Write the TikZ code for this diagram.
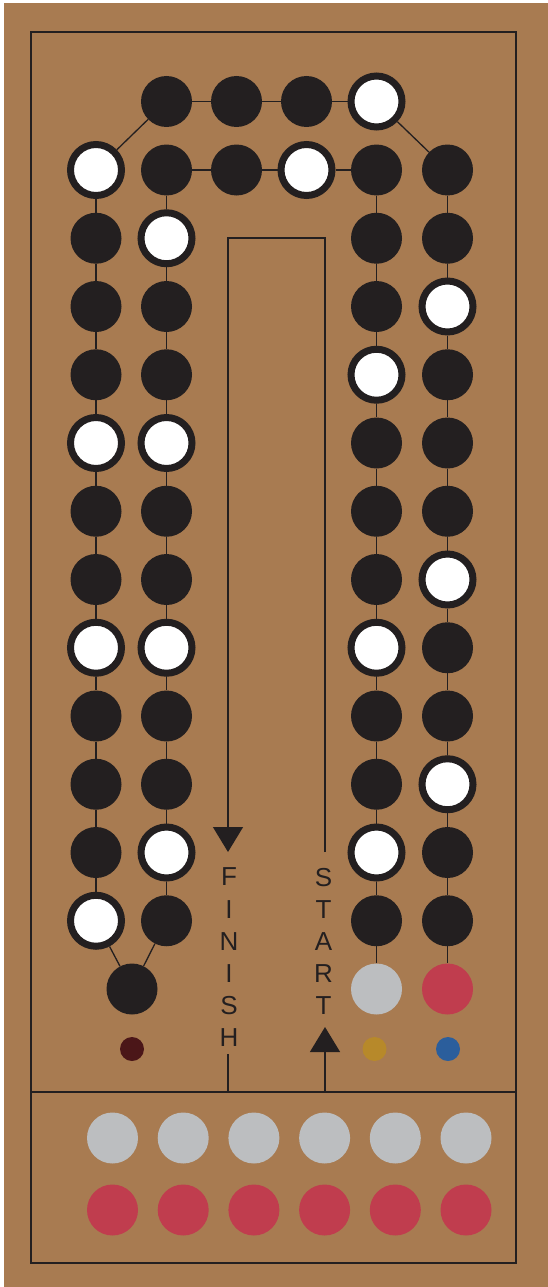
\documentclass[tikz,border=0pt]{standalone}
\usepackage{fontspec}
\setmainfont{Liberation Sans}
\usetikzlibrary{arrows.meta}
\definecolor{board}{HTML}{A87B51}
\definecolor{ink}{HTML}{231F20}
\definecolor{peggray}{HTML}{BCBEC0}
\definecolor{pegred}{HTML}{C03D4E}
\definecolor{dotred}{HTML}{4B1618}
\definecolor{dotgold}{HTML}{B7892A}
\definecolor{dotblue}{HTML}{2B5E9C}
\begin{document}
\begin{tikzpicture}[x=1pt,y=-1pt,
  blackhole/.style={circle,inner sep=0pt,minimum size=51pt,fill=ink},
  whitehole/.style={circle,inner sep=0pt,minimum size=51pt,fill=white,draw=ink,line width=7pt},
  peg/.style={circle,inner sep=0pt,minimum size=51pt,fill=#1},
  dotmark/.style={circle,inner sep=0pt,minimum size=24pt,fill=#1},
  link/.style={draw=ink,line width=1.3pt},
  frame/.style={draw=ink,line width=1.4pt},
  letters/.style={text=ink,font=\fontsize{26}{32.2}\selectfont,align=center,inner sep=0pt},
  tip/.style={-{Triangle[width=30pt,length=25pt]}}]
\useasboundingbox (0,0) rectangle (548,1287);
\fill[white] (0,0) rectangle (548,1287);
\fill[board] (4,3) rectangle (548,1287);
\draw[frame] (31,32) rectangle (516,1263);
\coordinate (sepL) at (31,1092);
\coordinate (sepR) at (516,1092);
\draw[frame] (sepL) -- (sepR);
% top row
\node[blackhole] (t1) at (166.5,101.5) {};
\node[blackhole] (t2) at (236.5,101.5) {};
\node[blackhole] (t3) at (306.5,101.5) {};
\node[whitehole] (t4) at (376.5,101.5) {};
% inner top row
\node[blackhole] (m2) at (236.5,170) {};
\node[whitehole] (m3) at (306.5,170) {};
% columns
\foreach \t [count=\i] in {whitehole,blackhole,blackhole,blackhole,whitehole,blackhole,blackhole,whitehole,blackhole,blackhole,blackhole,whitehole}
  \node[\t] (A\i) at (96,{170+68.25*(\i-1)}) {};
\foreach \t [count=\i] in {blackhole,whitehole,blackhole,blackhole,whitehole,blackhole,blackhole,whitehole,blackhole,blackhole,whitehole,blackhole}
  \node[\t] (B\i) at (166.5,{170+68.25*(\i-1)}) {};
\foreach \t [count=\i] in {blackhole,blackhole,blackhole,whitehole,blackhole,blackhole,blackhole,whitehole,blackhole,blackhole,whitehole,blackhole}
  \node[\t] (C\i) at (376.5,{170+68.25*(\i-1)}) {};
\foreach \t [count=\i] in {blackhole,blackhole,whitehole,blackhole,blackhole,blackhole,whitehole,blackhole,blackhole,whitehole,blackhole,blackhole}
  \node[\t] (D\i) at (447.5,{170+68.25*(\i-1)}) {};
\node[peg=peggray] (C13) at (376.5,989) {};
\node[peg=pegred] (D13) at (447.5,989) {};
\node[blackhole] (E) at (132,989) {};
% connectors
\draw[link] (t1) -- (t2);
\draw[link] (t2) -- (t3);
\draw[link] (t3) -- (t4);
\draw[link] (A1) -- (t1);
\draw[link] (t4) -- (D1);
\draw[link] (B1) -- (m2);
\draw[link] (m2) -- (m3);
\draw[link] (m3) -- (C1);
\foreach \i [count=\j from 2] in {1,...,11} {
  \draw[link] (A\i) -- (A\j);
  \draw[link] (B\i) -- (B\j);
}
\foreach \i [count=\j from 2] in {1,...,12} {
  \draw[link] (C\i) -- (C\j);
  \draw[link] (D\i) -- (D\j);
}
\draw[link] (A12) -- (E);
\draw[link] (B12) -- (E);
% dots
\node[dotmark=dotred] (dr) at (132,1049) {};
\node[dotmark=dotgold] (dg) at (374.5,1049) {};
\node[dotmark=dotblue] (db) at (448,1049) {};
% track
\coordinate (startEnd) at (325,852);
\coordinate (startTop) at (325,238);
\coordinate (finTop) at (228,238);
\coordinate (finTip) at (228,852);
\draw[link,tip] (startEnd) -- (startTop) -- (finTop) -- (finTip);
\coordinate (startBase) at (325,1092);
\coordinate (startTip) at (325,1027);
\draw[link,tip] (startBase) -- (startTip);
\coordinate (finLow) at (228,1054);
\coordinate (finBase) at (228,1092);
\draw[link] (finLow) -- (finBase);
\node[letters] (fin) at (229,957.5) {F\\I\\N\\I\\S\\H};
\node[letters] (sta) at (323.5,941.5) {S\\T\\A\\R\\T};
% tray
\foreach \i in {1,...,6} {
  \node[peg=peggray] (g\i) at ({112.5+70.7*(\i-1)},1138) {};
  \node[peg=pegred] (r\i) at ({112.5+70.7*(\i-1)},1210) {};
}
\end{tikzpicture}
\end{document}
